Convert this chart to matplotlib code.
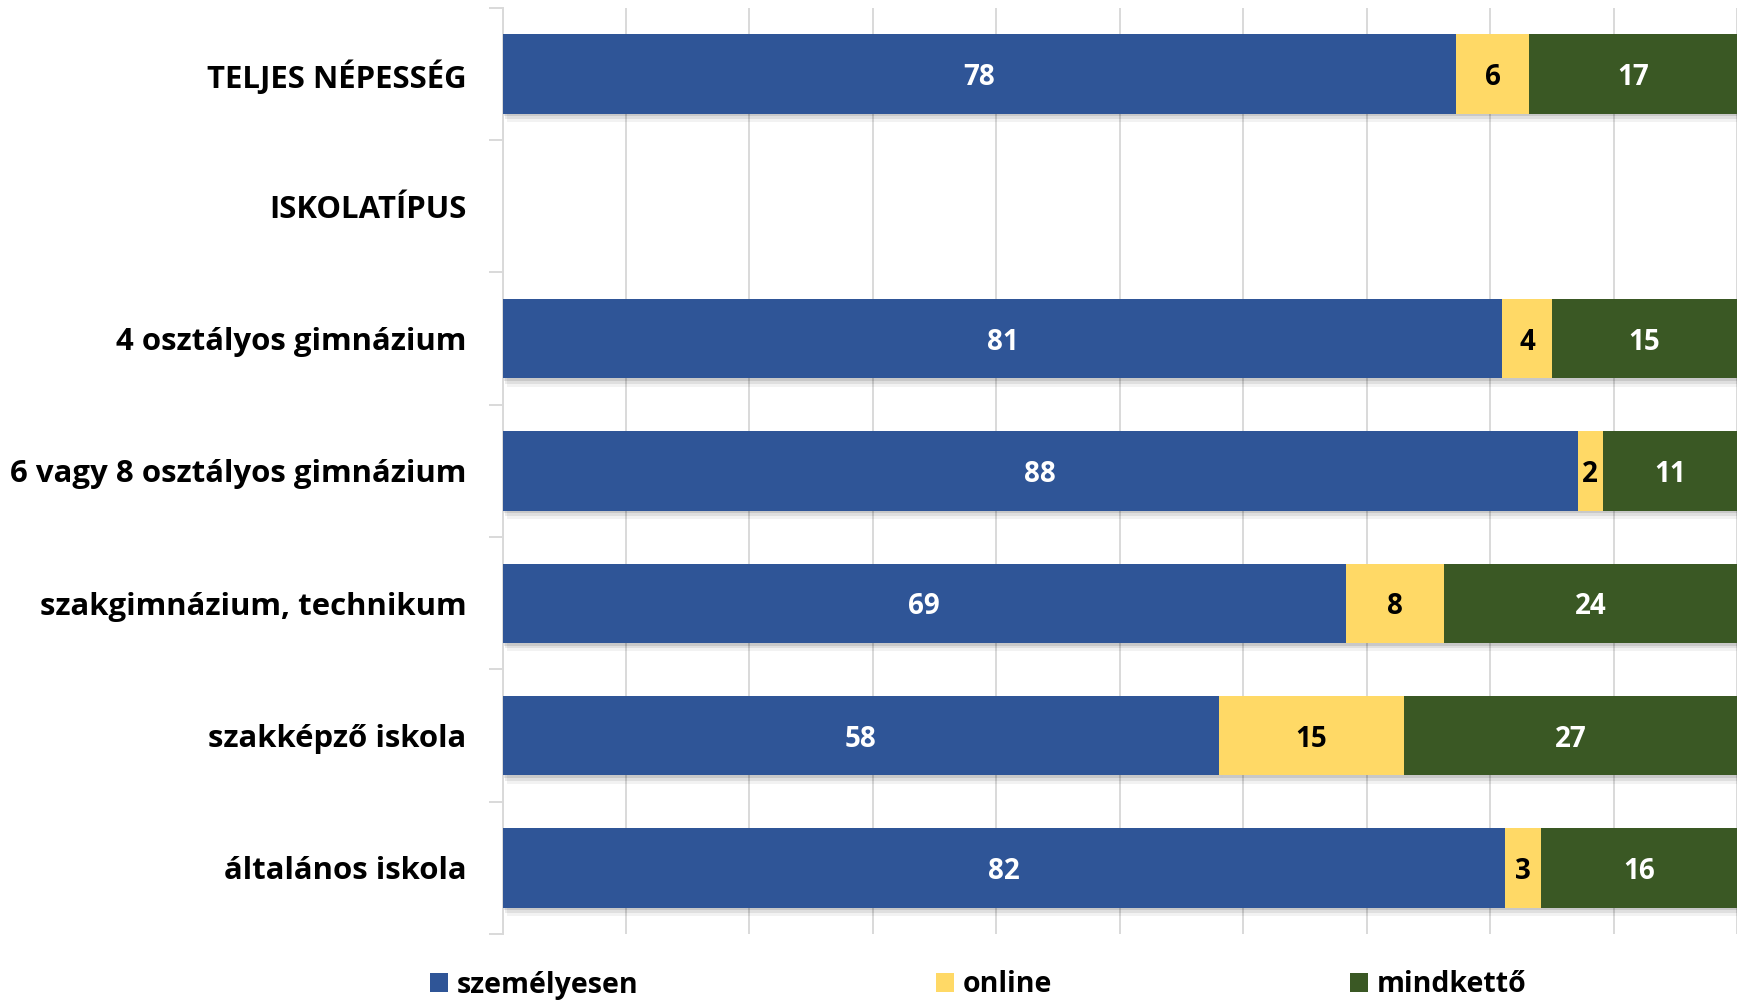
import numpy as np
import matplotlib
matplotlib.use("Agg")
import matplotlib.pyplot as plt
import matplotlib.patheffects as pe
from matplotlib.patches import Patch

# adatok (a felirat az egesz szam, a savok 100%-ra normalva)
kategoriak = ["TELJES NÉPESSÉG", "ISKOLATÍPUS", "4 osztályos gimnázium",
              "6 vagy 8 osztályos gimnázium", "szakgimnázium, technikum",
              "szakképző iskola", "általános iskola"]
szemelyesen = [78, np.nan, 81, 88, 69, 58, 82]
online = [6, np.nan, 4, 2, 8, 15, 3]
mindketto = [17, np.nan, 15, 11, 24, 27, 16]
sorozatok = ["személyesen", "online", "mindkettő"]
szinek = ["#2F5597", "#FFD966", "#3A5824"]
felirat_szin = ["white", "black", "white"]

plt.rcParams['font.family'] = ['Open Sans', 'DejaVu Sans']
plt.rcParams['font.weight'] = 'bold'

fig = plt.figure(figsize=(17.37, 10.01), dpi=100)
ax = fig.add_axes([502.5 / 1737, 1 - 934 / 1001, 1 - 502.5 / 1737, (934 - 7.75) / 1001])

ertekek = np.array([szemelyesen, online, mindketto], dtype=float)
osszeg = ertekek.sum(axis=0)
arany = ertekek / osszeg * 100
y = np.arange(len(kategoriak))

arnyek = [pe.SimplePatchShadow(offset=(1, -2), alpha=0.10, shadow_rgbFace='black'),
          pe.SimplePatchShadow(offset=(2, -4), alpha=0.08, shadow_rgbFace='black'),
          pe.SimplePatchShadow(offset=(3, -6), alpha=0.05, shadow_rgbFace='black'),
          pe.Normal()]

bal = np.zeros(len(kategoriak))
for i in range(3):
    bars = ax.barh(y, np.nan_to_num(arany[i]), left=bal, height=0.6, color=szinek[i], zorder=3)
    for b in bars:
        b.set_path_effects(arnyek)
    for j in range(len(kategoriak)):
        if not np.isnan(ertekek[i, j]):
            ax.text(bal[j] + arany[i, j] / 2, y[j], "%d" % ertekek[i, j], ha='center',
                    va='center_baseline', color=felirat_szin[i], fontsize=20, fontweight='bold', zorder=4)
    bal = bal + np.nan_to_num(arany[i])

ax.set_xlim(0, 100)
ax.set_ylim(len(kategoriak) - 0.5, -0.5)
ax.set_xticks(np.arange(0, 101, 10))
ax.xaxis.grid(True, color='#d9d9d9', lw=1.4, zorder=0)
ax.tick_params(axis='x', length=0, labelbottom=False)

ax.set_yticks(y)
ax.set_yticklabels(kategoriak, fontsize=22.4, fontweight='bold')
ax.set_yticks(np.arange(-0.5, len(kategoriak)), minor=True)
ax.tick_params(axis='y', which='major', length=0, pad=26)
ax.tick_params(axis='y', which='minor', length=10, width=1.4, color='#d9d9d9')

for s in ['top', 'right', 'bottom']:
    ax.spines[s].set_visible(False)
ax.spines['left'].set_color('#d9d9d9')
ax.spines['left'].set_linewidth(1.4)

kezelok = [Patch(facecolor=c, edgecolor='none') for c in szinek]
fig.legend(kezelok, sorozatok, loc='center', bbox_to_anchor=(978 / 1737, 16 / 1001), ncol=3,
           frameon=False, prop={'size': 20.5, 'weight': 'bold'},
           handlelength=0.65, handleheight=0.65, handletextpad=0.3, columnspacing=10.45,
           borderpad=0.1)

fig.savefig("out.png", dpi=100)
